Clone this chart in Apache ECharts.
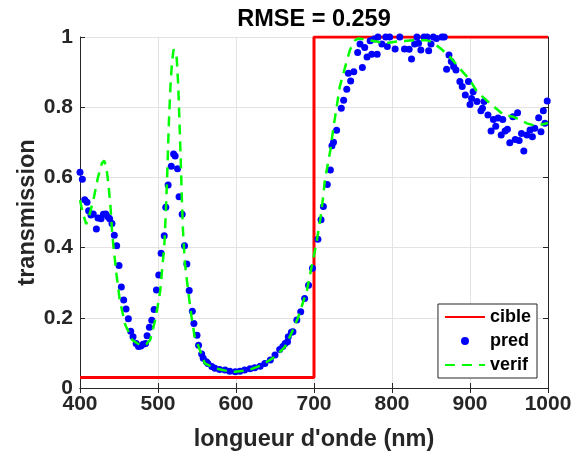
<!DOCTYPE html>
<html>
<head>
<meta charset="utf-8">
<script src="https://cdn.jsdelivr.net/npm/echarts@6/dist/echarts.min.js"></script>
<style>html,body{margin:0;padding:0;background:#fff}#c{width:573px;height:454px}</style>
</head>
<body>
<div id="c"></div>
<script>
const titleText = 'RMSE = 0.259';
const xTicks = [400, 500, 600, 700, 800, 900, 1000];
const yTicks = [0, 0.2, 0.4, 0.6, 0.8, 1];

const cibleX = [400, 700, 700, 1000];
const cibleY = [0.03, 0.03, 1, 1];

const verifX = [400,404,408,413,418,423,428,431,434,436,439,441,443,447,451,458,467,477,485,490,496,501,503,506,508,510,512,514,516,518,520,522,524,526,527.5,529,530.5,532,534.5,539,543,547,552,560,573,590,599,616,633,650,663,671,680,691,697,703,708,712,714,721,725,729,733,740,746,753,757,765,780,791,806,827,844,852,862,874,887,900,909,921,943,955,973,981,990,1000];
const verifY = [0.535,0.495,0.467,0.50,0.545,0.60,0.64,0.648,0.625,0.59,0.52,0.45,0.40,0.32,0.25,0.18,0.137,0.122,0.125,0.137,0.19,0.25,0.28,0.356,0.40,0.50,0.62,0.76,0.86,0.93,0.965,0.97,0.94,0.86,0.76,0.66,0.545,0.45,0.355,0.27,0.203,0.146,0.118,0.07,0.056,0.048,0.046,0.051,0.065,0.089,0.118,0.156,0.203,0.279,0.346,0.412,0.479,0.55,0.593,0.678,0.744,0.80,0.858,0.915,0.963,0.991,0.996,0.993,0.987,0.982,0.987,0.991,0.991,0.985,0.968,0.944,0.91,0.877,0.844,0.82,0.778,0.773,0.754,0.749,0.75,0.755];

const predX = [400,403,406,409,411,414,417,421,423,427,430,433,436,438,441,444,447,450,453,456,459,462,465,468,472,475,478,481,484,486,489,492,495,498,501,504,508,510,513,517,520,522,525,527,531,534,537,540,544,546,550,552,556,558,562,564,569,573,579,586,592,599,605,611,618,624,631,637,644,650,656,660,663,666,667,671,673,678,683,688,693,698,705,709,712,717,721,723,725,729,735,738,742,744,747,751,756,759,762,765,768,772,774,777,781,782,787,792,794,797,804,810,816,822,825,829,832,834,837,841,845,847,850,853,857,864,867,870,873,876,879,882,887,890,894,898,900,902,904,909,914,916,918,923,927,930,933,936,940,942,945,948,951,955,958,961,963,966,969,973,977,980,983,988,991,994,996,999];
const predY = [0.615,0.595,0.536,0.529,0.505,0.493,0.496,0.453,0.484,0.482,0.495,0.496,0.488,0.482,0.469,0.435,0.405,0.349,0.288,0.251,0.225,0.197,0.162,0.146,0.127,0.118,0.12,0.125,0.127,0.149,0.173,0.193,0.224,0.279,0.322,0.384,0.434,0.515,0.578,0.632,0.667,0.661,0.625,0.545,0.495,0.405,0.353,0.278,0.219,0.184,0.15,0.122,0.097,0.085,0.075,0.07,0.061,0.056,0.053,0.051,0.048,0.046,0.048,0.051,0.055,0.058,0.062,0.07,0.08,0.094,0.11,0.118,0.127,0.132,0.146,0.159,0.16,0.194,0.217,0.255,0.293,0.341,0.424,0.479,0.517,0.58,0.621,0.69,0.70,0.734,0.797,0.82,0.851,0.897,0.875,0.901,0.956,0.98,0.913,0.97,0.943,0.989,0.951,0.994,0.951,1.0,0.98,1.0,0.973,1.0,0.966,1.0,0.966,0.965,0.937,0.98,1.0,0.982,0.963,1.0,1.0,0.961,0.98,1.0,0.996,1.0,1.0,0.908,0.949,0.93,0.916,0.906,0.873,0.859,0.835,0.873,0.808,0.825,0.844,0.816,0.79,0.797,0.816,0.778,0.732,0.765,0.746,0.769,0.721,0.765,0.732,0.737,0.699,0.773,0.708,0.784,0.705,0.725,0.675,0.721,0.735,0.716,0.74,0.77,0.73,0.79,0.754,0.818];

const zip = (a, b) => a.map((v, i) => [v, b[i]]);
const FONT = '"Liberation Sans", Arial, Helvetica, sans-serif';
const axisCol = '#262626';

const chart = echarts.init(document.getElementById('c'), null, {renderer: 'canvas'});
const baseX = {
  type: 'value', min: xTicks[0], max: xTicks[xTicks.length - 1], interval: 100,
  axisLine: {show: true, lineStyle: {color: axisCol, width: 1}},
  axisTick: {show: true, inside: true, length: 5, lineStyle: {color: axisCol}},
};
const baseY = {
  type: 'value', min: yTicks[0], max: yTicks[yTicks.length - 1], interval: 0.2,
  axisLine: {show: true, lineStyle: {color: axisCol, width: 1}},
  axisTick: {show: true, inside: true, length: 5, lineStyle: {color: axisCol}},
};
chart.setOption({
  animation: false,
  backgroundColor: '#fff',
  title: {
    text: titleText, left: 309, top: 3, textAlign: 'center',
    textStyle: {fontFamily: FONT, fontWeight: 'bold', fontSize: 23.5, color: '#000'}
  },
  grid: {left: 80, right: 25, top: 37, bottom: 66, containLabel: false, outerBoundsMode: 'none'},
  xAxis: [
    Object.assign({}, baseX, {
      position: 'bottom',
      name: "longueur d'onde (nm)", nameLocation: 'middle', nameGap: 40, nameMoveOverlap: false,
      nameTextStyle: {fontFamily: FONT, fontWeight: 'bold', fontSize: 23.5, color: '#262626'},
      axisLabel: {fontFamily: FONT, fontWeight: 'bold', fontSize: 21, color: '#262626', margin: 6,
        formatter: v => String(v)},
      splitLine: {show: true, lineStyle: {color: '#e3e3e3', width: 1}}
    }),
    Object.assign({}, baseX, {position: 'top', axisLabel: {show: false}, splitLine: {show: false}})
  ],
  yAxis: [
    Object.assign({}, baseY, {
      position: 'left',
      name: 'transmission', nameLocation: 'middle', nameGap: 40, nameRotate: 90, nameMoveOverlap: false,
      nameTextStyle: {fontFamily: FONT, fontWeight: 'bold', fontSize: 23.5, color: '#262626'},
      axisLabel: {fontFamily: FONT, fontWeight: 'bold', fontSize: 21, color: '#262626', margin: 7,
        formatter: v => String(v)},
      splitLine: {show: true, lineStyle: {color: '#e3e3e3', width: 1}}
    }),
    Object.assign({}, baseY, {position: 'right', axisLabel: {show: false}, splitLine: {show: false}})
  ],
  legend: {
    orient: 'vertical', right: 36, top: 304,
    backgroundColor: '#fff', borderColor: '#262626', borderWidth: 1,
    padding: [4, 6, 4, 6], itemGap: 6, itemWidth: 40, itemHeight: 8,
    textStyle: {fontFamily: FONT, fontWeight: 'bold', fontSize: 18, color: '#000', lineHeight: 17},
    data: [
      {name: 'cible', itemStyle: {opacity: 0}},
      {name: 'pred', icon: 'circle', itemStyle: {opacity: 1}},
      {name: 'verif', itemStyle: {opacity: 0}}
    ]
  },
  series: [
    {
      name: 'cible', type: 'line', data: zip(cibleX, cibleY), showSymbol: false, symbol: 'none',
      lineStyle: {color: '#ff0000', width: 3}, itemStyle: {color: '#ff0000'}, z: 2
    },
    {
      name: 'pred', type: 'scatter', data: zip(predX, predY), symbol: 'circle', symbolSize: 7,
      itemStyle: {color: '#0000ff', opacity: 1}, z: 3
    },
    {
      name: 'verif', type: 'line', data: zip(verifX, verifY), showSymbol: false, symbol: 'none',
      lineStyle: {color: '#00ff00', width: 2.5, type: [10, 7]}, itemStyle: {color: '#00ff00'}, z: 4
    }
  ]
});
</script>
</body>
</html>
